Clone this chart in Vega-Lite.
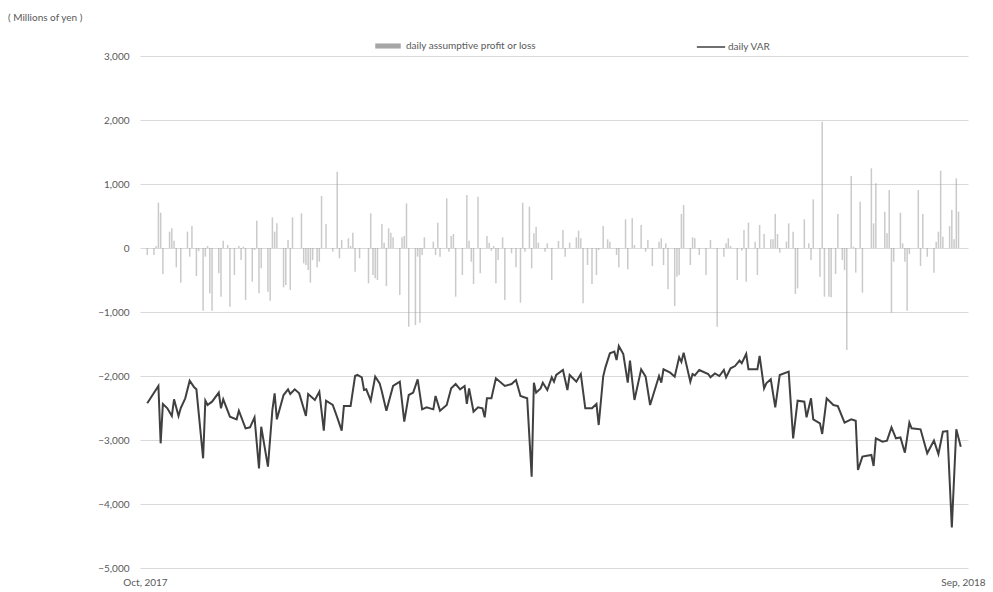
{
  "$schema": "https://vega.github.io/schema/vega-lite/v6.json",
  "width": 828,
  "height": 512,
  "autosize": "none",
  "padding": {"left": 140, "top": 56, "right": 25, "bottom": 24},
  "background": "white",
  "config": {
    "view": {"stroke": null},
    "font": "Lato",
    "axis": {"labelFont": "Lato", "labelColor": "#595959", "labelFontSize": 10},
    "legend": {"labelFont": "Lato", "labelColor": "#595959", "labelFontSize": 10, "padding": 0}
  },
  "title": {
    "text": "( Millions of yen )",
    "anchor": "start",
    "frame": "group",
    "dx": -132,
    "offset": 9,
    "fontSize": 10,
    "fontWeight": "normal",
    "color": "#595959",
    "font": "Lato"
  },
  "datasets": {
    "pl": [
      {"d":0,"v":-109},{"d":3,"v":-109},{"d":4,"v":31},{"d":5,"v":708},{"d":6,"v":552},{"d":7,"v":-406},{"d":10,"v":255},{"d":11,"v":307},{"d":12,"v":115},{"d":13,"v":-302},{"d":15,"v":-542},{"d":18,"v":255},{"d":19,"v":-135},{"d":20,"v":344},{"d":22,"v":-438},{"d":23,"v":-50},{"d":25,"v":-979},{"d":26,"v":-135},{"d":27,"v":31},{"d":28,"v":-708},{"d":29,"v":-979},{"d":32,"v":-396},{"d":33,"v":-760},{"d":34,"v":115},{"d":36,"v":47},{"d":37,"v":-917},{"d":39,"v":-422},{"d":41,"v":31},{"d":42,"v":-188},{"d":43,"v":20},{"d":44,"v":-812},{"d":47,"v":-526},{"d":48,"v":-30},{"d":49,"v":427},{"d":50,"v":-708},{"d":51,"v":-318},{"d":54,"v":-682},{"d":55,"v":-823},{"d":56,"v":479},{"d":57,"v":255},{"d":58,"v":385},{"d":61,"v":-615},{"d":62,"v":-578},{"d":63,"v":125},{"d":64,"v":-656},{"d":65,"v":479},{"d":69,"v":542},{"d":70,"v":-240},{"d":71,"v":-266},{"d":72,"v":-344},{"d":73,"v":-542},{"d":74,"v":-188},{"d":76,"v":-302},{"d":77,"v":-214},{"d":78,"v":813},{"d":80,"v":375},{"d":83,"v":-57},{"d":85,"v":1193},{"d":86,"v":-161},{"d":87,"v":125},{"d":90,"v":151},{"d":91,"v":31},{"d":92,"v":240},{"d":93,"v":-370},{"d":95,"v":-161},{"d":99,"v":-552},{"d":100,"v":542},{"d":101,"v":-422},{"d":102,"v":-474},{"d":103,"v":-500},{"d":105,"v":375},{"d":106,"v":83},{"d":107,"v":-594},{"d":108,"v":307},{"d":109,"v":240},{"d":110,"v":167},{"d":113,"v":-734},{"d":114,"v":167},{"d":115,"v":188},{"d":116,"v":698},{"d":117,"v":-1229},{"d":120,"v":-1203},{"d":121,"v":-135},{"d":122,"v":-1167},{"d":123,"v":-109},{"d":124,"v":167},{"d":128,"v":99},{"d":129,"v":-109},{"d":130,"v":396},{"d":131,"v":-135},{"d":134,"v":776},{"d":135,"v":-57},{"d":136,"v":188},{"d":137,"v":219},{"d":138,"v":-760},{"d":141,"v":-422},{"d":143,"v":828},{"d":144,"v":115},{"d":145,"v":-214},{"d":146,"v":-563},{"d":148,"v":802},{"d":149,"v":-396},{"d":152,"v":188},{"d":153,"v":83},{"d":154,"v":-42},{"d":155,"v":31},{"d":156,"v":-552},{"d":157,"v":-188},{"d":159,"v":167},{"d":160,"v":-812},{"d":163,"v":-83},{"d":165,"v":-302},{"d":167,"v":-854},{"d":168,"v":708},{"d":169,"v":-57},{"d":171,"v":646},{"d":172,"v":-318},{"d":173,"v":229},{"d":174,"v":333},{"d":175,"v":83},{"d":178,"v":-57},{"d":179,"v":73},{"d":181,"v":-500},{"d":184,"v":110},{"d":186,"v":281},{"d":187,"v":-135},{"d":189,"v":83},{"d":192,"v":167},{"d":193,"v":271},{"d":194,"v":151},{"d":195,"v":-865},{"d":197,"v":-266},{"d":199,"v":-563},{"d":201,"v":-422},{"d":202,"v":-30},{"d":204,"v":344},{"d":206,"v":135},{"d":207,"v":99},{"d":210,"v":-109},{"d":211,"v":-302},{"d":214,"v":448},{"d":215,"v":-333},{"d":217,"v":464},{"d":218,"v":47},{"d":221,"v":359},{"d":223,"v":-57},{"d":224,"v":125},{"d":226,"v":-281},{"d":229,"v":99},{"d":230,"v":151},{"d":231,"v":-266},{"d":232,"v":73},{"d":233,"v":-646},{"d":236,"v":-906},{"d":237,"v":-448},{"d":238,"v":-422},{"d":239,"v":531},{"d":240,"v":672},{"d":243,"v":-266},{"d":244,"v":167},{"d":245,"v":151},{"d":247,"v":-109},{"d":250,"v":-422},{"d":252,"v":125},{"d":255,"v":-1229},{"d":258,"v":-135},{"d":259,"v":73},{"d":260,"v":151},{"d":261,"v":31},{"d":264,"v":-500},{"d":266,"v":-40},{"d":267,"v":281},{"d":268,"v":-526},{"d":269,"v":396},{"d":272,"v":99},{"d":273,"v":-422},{"d":274,"v":359},{"d":276,"v":219},{"d":279,"v":135},{"d":280,"v":135},{"d":281,"v":531},{"d":282,"v":219},{"d":283,"v":-73},{"d":286,"v":99},{"d":287,"v":385},{"d":289,"v":255},{"d":290,"v":-719},{"d":291,"v":-630},{"d":294,"v":448},{"d":296,"v":73},{"d":297,"v":-188},{"d":298,"v":760},{"d":301,"v":-448},{"d":302,"v":1974},{"d":303,"v":-760},{"d":305,"v":-760},{"d":306,"v":-771},{"d":308,"v":-406},{"d":309,"v":531},{"d":311,"v":-188},{"d":312,"v":-344},{"d":313,"v":-1594},{"d":315,"v":1125},{"d":316,"v":20},{"d":317,"v":-385},{"d":319,"v":724},{"d":320,"v":-698},{"d":324,"v":1245},{"d":325,"v":385},{"d":326,"v":1010},{"d":330,"v":568},{"d":331,"v":229},{"d":332,"v":906},{"d":333,"v":-1010},{"d":334,"v":-214},{"d":337,"v":552},{"d":338,"v":73},{"d":339,"v":-214},{"d":340,"v":-979},{"d":341,"v":-94},{"d":345,"v":906},{"d":346,"v":-281},{"d":347,"v":531},{"d":349,"v":-135},{"d":352,"v":-385},{"d":353,"v":99},{"d":354,"v":255},{"d":355,"v":1208},{"d":356,"v":177},{"d":359,"v":344},{"d":360,"v":594},{"d":361,"v":135},{"d":362,"v":1089},{"d":363,"v":568}
    ],
    "var": [
      {"d":0,"v":-2427},{"d":5,"v":-2156},{"d":6,"v":-3052},{"d":7,"v":-2437},{"d":9,"v":-2505},{"d":11,"v":-2625},{"d":12,"v":-2365},{"d":14,"v":-2625},{"d":15,"v":-2500},{"d":17,"v":-2349},{"d":19,"v":-2073},{"d":21,"v":-2177},{"d":22,"v":-2208},{"d":25,"v":-3286},{"d":26,"v":-2385},{"d":27,"v":-2453},{"d":29,"v":-2401},{"d":32,"v":-2260},{"d":33,"v":-2505},{"d":34,"v":-2365},{"d":37,"v":-2635},{"d":40,"v":-2677},{"d":41,"v":-2542},{"d":44,"v":-2818},{"d":46,"v":-2802},{"d":48,"v":-2646},{"d":50,"v":-3443},{"d":51,"v":-2792},{"d":54,"v":-3417},{"d":56,"v":-2531},{"d":57,"v":-2271},{"d":58,"v":-2677},{"d":61,"v":-2297},{"d":63,"v":-2208},{"d":64,"v":-2281},{"d":66,"v":-2208},{"d":68,"v":-2271},{"d":71,"v":-2625},{"d":72,"v":-2281},{"d":75,"v":-2375},{"d":77,"v":-2245},{"d":79,"v":-2854},{"d":80,"v":-2385},{"d":83,"v":-2453},{"d":85,"v":-2646},{"d":87,"v":-2854},{"d":88,"v":-2469},{"d":91,"v":-2469},{"d":93,"v":-2000},{"d":94,"v":-1984},{"d":96,"v":-2021},{"d":97,"v":-2219},{"d":98,"v":-2208},{"d":100,"v":-2385},{"d":102,"v":-2010},{"d":104,"v":-2115},{"d":105,"v":-2245},{"d":107,"v":-2542},{"d":110,"v":-2156},{"d":113,"v":-2089},{"d":115,"v":-2714},{"d":117,"v":-2297},{"d":119,"v":-2260},{"d":121,"v":-2052},{"d":123,"v":-2521},{"d":125,"v":-2490},{"d":128,"v":-2521},{"d":129,"v":-2312},{"d":131,"v":-2542},{"d":134,"v":-2453},{"d":136,"v":-2193},{"d":138,"v":-2125},{"d":140,"v":-2208},{"d":142,"v":-2156},{"d":143,"v":-2437},{"d":144,"v":-2193},{"d":146,"v":-2557},{"d":148,"v":-2490},{"d":150,"v":-2505},{"d":151,"v":-2646},{"d":152,"v":-2349},{"d":154,"v":-2349},{"d":156,"v":-2036},{"d":160,"v":-2156},{"d":163,"v":-2125},{"d":165,"v":-2063},{"d":167,"v":-2312},{"d":170,"v":-2349},{"d":172,"v":-3573},{"d":173,"v":-2104},{"d":174,"v":-2260},{"d":176,"v":-2193},{"d":177,"v":-2104},{"d":179,"v":-2219},{"d":181,"v":-2021},{"d":182,"v":-2089},{"d":183,"v":-1984},{"d":186,"v":-1906},{"d":188,"v":-2219},{"d":189,"v":-1984},{"d":192,"v":-2089},{"d":194,"v":-1969},{"d":196,"v":-2505},{"d":199,"v":-2505},{"d":201,"v":-2437},{"d":202,"v":-2766},{"d":204,"v":-2010},{"d":205,"v":-1865},{"d":207,"v":-1646},{"d":209,"v":-1620},{"d":210,"v":-1750},{"d":211,"v":-1531},{"d":213,"v":-1656},{"d":215,"v":-2104},{"d":216,"v":-1760},{"d":218,"v":-2375},{"d":221,"v":-1896},{"d":223,"v":-2010},{"d":225,"v":-2453},{"d":229,"v":-2000},{"d":230,"v":-2104},{"d":231,"v":-1896},{"d":234,"v":-1948},{"d":236,"v":-2010},{"d":238,"v":-1708},{"d":239,"v":-1780},{"d":240,"v":-1635},{"d":243,"v":-2089},{"d":244,"v":-1969},{"d":245,"v":-1990},{"d":247,"v":-1906},{"d":251,"v":-1969},{"d":252,"v":-2021},{"d":254,"v":-1960},{"d":256,"v":-2000},{"d":258,"v":-1906},{"d":259,"v":-2021},{"d":261,"v":-1880},{"d":263,"v":-1844},{"d":265,"v":-1760},{"d":266,"v":-1800},{"d":268,"v":-1656},{"d":269,"v":-1896},{"d":273,"v":-1896},{"d":274,"v":-1687},{"d":276,"v":-2193},{"d":277,"v":-2115},{"d":279,"v":-2052},{"d":281,"v":-2490},{"d":283,"v":-1984},{"d":287,"v":-1932},{"d":289,"v":-2974},{"d":291,"v":-2385},{"d":294,"v":-2401},{"d":295,"v":-2646},{"d":297,"v":-2349},{"d":298,"v":-2677},{"d":301,"v":-2740},{"d":302,"v":-2906},{"d":304,"v":-2349},{"d":307,"v":-2453},{"d":309,"v":-2469},{"d":312,"v":-2729},{"d":315,"v":-2677},{"d":317,"v":-2700},{"d":318,"v":-3469},{"d":320,"v":-3260},{"d":324,"v":-3234},{"d":325,"v":-3406},{"d":326,"v":-2974},{"d":329,"v":-3026},{"d":331,"v":-3010},{"d":333,"v":-2802},{"d":335,"v":-2974},{"d":337,"v":-2960},{"d":339,"v":-3198},{"d":341,"v":-2729},{"d":342,"v":-2818},{"d":346,"v":-2833},{"d":349,"v":-3208},{"d":352,"v":-3010},{"d":354,"v":-3219},{"d":356,"v":-2870},{"d":358,"v":-2860},{"d":360,"v":-4365},{"d":362,"v":-2833},{"d":364,"v":-3104}
    ]
  },
  "encoding": {
    "x": {
      "field": "d",
      "type": "quantitative",
      "scale": {"domain": [-1, 365], "nice": false, "zero": false},
      "axis": {
        "title": null,
        "values": [-1, 365],
        "labelExpr": "datum.value < 100 ? 'Oct, 2017' : 'Sep, 2018'",
        "grid": false,
        "domain": false,
        "ticks": false,
        "labelPadding": 9,
        "labelFlush": false
      }
    },
    "y": {
      "field": "v",
      "type": "quantitative",
      "scale": {"domain": [-5000, 3000], "nice": false},
      "axis": {
        "title": null,
        "values": [-5000, -4000, -3000, -2000, -1000, 0, 1000, 2000, 3000],
        "format": ",d",
        "grid": true,
        "gridColor": "#d9d9d9",
        "gridWidth": 1,
        "domain": false,
        "ticks": false,
        "labelPadding": 11
      }
    }
  },
  "layer": [
    {
      "data": {"name": "pl"},
      "mark": {"type": "bar", "width": 1.5, "fillOpacity": 0.6},
      "encoding": {
        "fill": {
          "datum": "daily assumptive profit or loss",
          "type": "nominal",
          "scale": {"range": ["#a6a6a6"]},
          "legend": {
            "title": null,
            "orient": "none",
            "legendX": 235,
            "legendY": -23,
            "symbolType": "M-1,-0.2H1V0.2H-1Z",
            "symbolSize": 650,
            "symbolOpacity": 1,
            "symbolStrokeWidth": 0,
            "labelOffset": 5
          }
        }
      }
    },
    {
      "data": {"name": "var"},
      "mark": {"type": "line", "strokeWidth": 2, "strokeJoin": "miter"},
      "encoding": {
        "stroke": {
          "datum": "daily VAR",
          "type": "nominal",
          "scale": {"range": ["#404040"]},
          "legend": {
            "title": null,
            "orient": "none",
            "legendX": 556,
            "legendY": -24,
            "symbolType": "stroke",
            "symbolSize": 800,
            "symbolStrokeWidth": 1.5,
            "labelOffset": 2
          }
        }
      }
    }
  ]
}
